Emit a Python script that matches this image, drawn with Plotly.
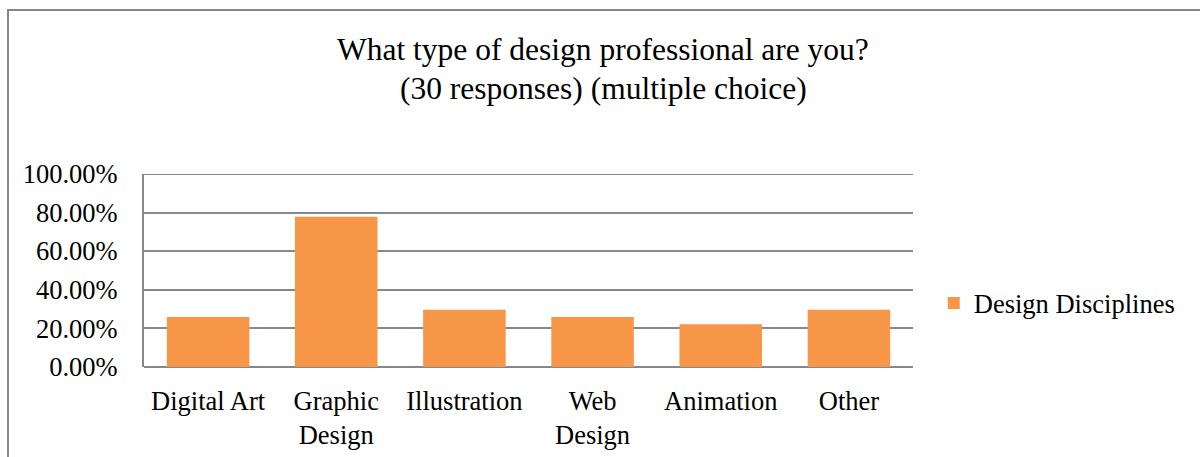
import plotly.graph_objects as go

categories = ["Digital Art", "Graphic<br>Design", "Illustration", "Web<br>Design", "Animation", "Other"]
values = [0.259, 0.778, 0.296, 0.259, 0.222, 0.296]
series_name = "Design Disciplines"
y_ticks = [0, 0.2, 0.4, 0.6, 0.8, 1.0]
title_lines = ["What type of design professional are you?", "(30 responses) (multiple choice)"]

FONT = "Liberation Serif, Times New Roman, serif"
GRID = "#878787"

fig = go.Figure()
fig.add_trace(go.Bar(
    x=categories, y=values, name=series_name,
    marker=dict(color="#F79646", line=dict(width=0)),
    showlegend=True,
))

title_y_px = [50, 88]
annotations = [
    dict(
        text=t, xref="paper", yref="paper",
        x=(603 - 144) / 769, y=(367 - py) / 193,
        xanchor="center", yanchor="middle", showarrow=False,
        font=dict(family=FONT, size=31.5, color="black"),
    )
    for t, py in zip(title_lines, title_y_px)
]

fig.update_layout(
    width=1200, height=457,
    margin=dict(l=144, r=287, t=174, b=90, autoexpand=False),
    paper_bgcolor="white", plot_bgcolor="white",
    font=dict(family=FONT, size=26.5, color="black"),
    bargap=0.356,
    showlegend=True,
    legend=dict(
        x=1.027, xanchor="left", y=0.33, yanchor="middle",
        font=dict(family=FONT, size=26.5, color="black"),
        bgcolor="rgba(0,0,0,0)", itemwidth=30,
    ),
    xaxis=dict(
        showgrid=False, showline=False, zeroline=False, automargin=False,
        ticks="", ticklabelstandoff=15,
        tickfont=dict(family=FONT, size=26.5, color="black"),
    ),
    yaxis=dict(
        range=[0, 1.0], tickvals=y_ticks, tickformat=".2%", automargin=False,
        showgrid=True, gridcolor=GRID, gridwidth=2,
        zeroline=True, zerolinecolor=GRID, zerolinewidth=2,
        showline=True, linecolor=GRID, linewidth=2,
        ticks="", ticklabelstandoff=19,
        tickfont=dict(family=FONT, size=26.5, color="black"),
    ),
    annotations=annotations,
    shapes=[
        dict(
            type="rect", xref="paper", yref="paper",
            x0=(8 - 144) / 769, x1=2.0, y0=-2.0, y1=(367 - 10) / 193,
            line=dict(color=GRID, width=2), fillcolor="rgba(0,0,0,0)", layer="below",
        ),
        dict(
            type="line", xref="paper", yref="y",
            x0=0, x1=1, y0=y_ticks[-1], y1=y_ticks[-1],
            line=dict(color=GRID, width=2), layer="below",
        ),
    ],
)

fig.write_html("out.html")
